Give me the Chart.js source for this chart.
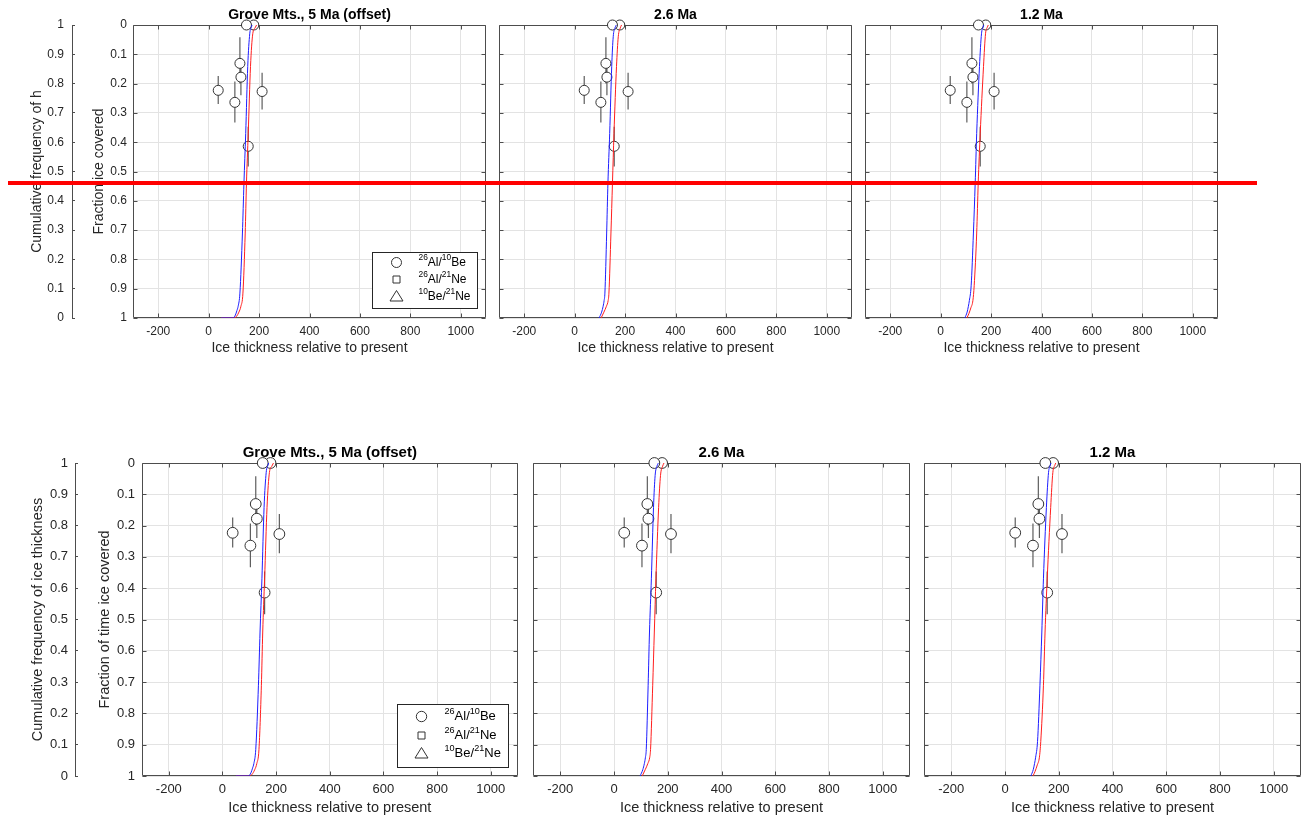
<!DOCTYPE html>
<html>
<head>
<meta charset="utf-8">
<script src="https://cdn.jsdelivr.net/npm/chart.js@4.4.1/dist/chart.umd.min.js"></script>
<style>
body { margin: 0; background: #fff; width: 1307px; height: 823px; overflow: hidden; position: relative; }
#redline { position: absolute; left: 8px; top: 181px; width: 1249px; height: 4px; background: #ff0000; z-index: 10; }
</style>
</head>
<body>
<div id="redline"></div>
<script>
const FONT = '"Liberation Sans", Arial, Helvetica, sans-serif';
const TXT = '#262626';
const AXIS = '#4d4d4d';
const GRID = '#e3e3e3';

// ---- data ----
const xTicks = [-200, 0, 200, 400, 600, 800, 1000];
const yTicks = [0, 0.1, 0.2, 0.3, 0.4, 0.5, 0.6, 0.7, 0.8, 0.9, 1];

const panelTitles = ['Grove Mts., 5 Ma (offset)', '2.6 Ma', '1.2 Ma'];

// 26Al/10Be samples: ice thickness, fraction of time covered, error bar ends
const sampleThick = [179, 150, 124, 128, 38, 104, 212, 157];
const sampleFrac  = [0, 0, 0.131, 0.178, 0.223, 0.264, 0.227, 0.414];
const sampleLo    = [0, 0, 0.042, 0.13, 0.174, 0.193, 0.163, 0.347];
const sampleHi    = [0, 0, 0.20, 0.24, 0.27, 0.333, 0.288, 0.483];

// cumulative ice thickness curves (blue / red) for each panel
const blue5Thick  = [50, 97, 106, 112, 117, 124, 134, 140, 147, 155, 163, 170, 172];
const blue5Frac   = [1, 1, 0.99, 0.975, 0.96, 0.915, 0.71, 0.54, 0.37, 0.142, 0.03, 0.006, 0];
const red5Thick   = [50, 100, 110, 120, 128, 136, 145, 150, 157, 166, 175, 184, 190];
const red5Frac    = [1, 1, 0.995, 0.98, 0.96, 0.915, 0.71, 0.54, 0.37, 0.142, 0.03, 0.01, 0];
const blue26Thick = [97, 107, 113, 117, 120, 127, 132, 139, 147, 153, 160, 165];
const blue26Frac  = [1, 0.98, 0.96, 0.94, 0.915, 0.71, 0.54, 0.37, 0.142, 0.04, 0.01, 0];
const red26Thick  = [105, 116, 126, 133, 136, 144, 150, 156, 166, 173, 181, 186];
const red26Frac   = [1, 0.98, 0.96, 0.94, 0.915, 0.71, 0.54, 0.37, 0.142, 0.04, 0.01, 0];
const blue12Thick = [96, 105, 110, 114, 121, 130, 137, 143, 154, 162, 168, 171];
const blue12Frac  = [1, 0.98, 0.96, 0.94, 0.89, 0.71, 0.54, 0.37, 0.142, 0.03, 0.008, 0];
const red12Thick  = [104, 112, 120, 128, 133, 143, 149, 157, 170, 178, 185, 189];
const red12Frac   = [1, 0.985, 0.965, 0.94, 0.89, 0.71, 0.54, 0.37, 0.142, 0.03, 0.008, 0];

const blueThick = [blue5Thick, blue26Thick, blue12Thick];
const blueFrac  = [blue5Frac, blue26Frac, blue12Frac];
const redThick  = [red5Thick, red26Thick, red12Thick];
const redFrac   = [red5Frac, red26Frac, red12Frac];

const legendLabels = ['^{26}Al/^{10}Be', '^{26}Al/^{21}Ne', '^{10}Be/^{21}Ne'];
const legendStyles = ['circle', 'rect', 'triangle'];

// ---- layout ----
const rows = [
  { top: 0, height: 360, areaTop: 25, areaBottom: 318, tick: 12, axTitle: 14, title: 14, titleGap: 9.5,
    xTitlePad: 3.6, innerLeft: 85, yTitle: 'Fraction ice covered', yTitlePad: 5.6, yLabelPad: 6, dot: 5,
    outer: { left: 20, axisLeft: 72, titlePad: 8.6, labelPad: 8, text: 'Cumulative frequency of h' },
    panels: [{ left: 133, right: 487 }, { left: 499, right: 853 }, { left: 865, right: 1219 }],
    legend: { w: 105, h: 56, right: 9, bottom: 10, markerX: 24, labelX: 46, rows: [10, 27, 44], font: 12, r: 5 } },
  { top: 430, height: 393, areaTop: 463, areaBottom: 776, tick: 13, axTitle: 14.5, title: 15, titleGap: 10.3,
    xTitlePad: 6.3, innerLeft: 88, yTitle: 'Fraction of time ice covered', yTitlePad: 8, yLabelPad: 7, dot: 5.4,
    outer: { left: 20, axisLeft: 75, titlePad: 9, labelPad: 7, text: 'Cumulative frequency of ice thickness' },
    panels: [{ left: 142, right: 519 }, { left: 533, right: 911 }, { left: 924, right: 1302 }],
    legend: { w: 111, h: 63, right: 10, bottom: 9, markerX: 24, labelX: 47, rows: [12, 31, 49], font: 13, r: 5.2 } }
];

function addCanvas(left, top, width, height) {
  const c = document.createElement('canvas');
  c.width = width; c.height = height;
  c.style.cssText = 'position:absolute;left:' + left + 'px;top:' + top + 'px;width:' + width + 'px;height:' + height + 'px';
  document.body.appendChild(c);
  return c;
}

function pts(xs, ys) { return xs.map((x, i) => ({ x: x, y: ys[i] })); }

function drawRich(ctx, str, x, y, size) {
  str.split(/(\^\{[^}]*\})/).filter(Boolean).forEach(p => {
    const sup = p.startsWith('^{');
    const t = sup ? p.slice(2, -1) : p;
    ctx.font = (sup ? size * 0.7 : size) + 'px ' + FONT;
    ctx.fillText(t, x, sup ? y - size * 0.38 : y);
    x += ctx.measureText(t).width;
  });
}

function drawMarker(ctx, style, x, y, r) {
  ctx.beginPath();
  if (style === 'circle') ctx.arc(x, y, r, 0, Math.PI * 2);
  else if (style === 'rect') ctx.rect(x - 3.5, y - 3.5, 7, 7);
  else { ctx.moveTo(x, y - 6); ctx.lineTo(x + 6.5, y + 4.5); ctx.lineTo(x - 6.5, y + 4.5); ctx.closePath(); }
  ctx.stroke();
}

function matlabPlugin(meta) {
  return {
    id: 'matlab',
    beforeDatasetsDraw(chart) {
      const { ctx, chartArea: a } = chart;
      const sx = chart.scales.x, sy = chart.scales.y;
      const L = Math.round(a.left) + 0.5, R = Math.round(a.right) - 0.5;
      const T = Math.round(a.top) + 0.5, B = Math.round(a.bottom) - 0.5;
      ctx.save();
      ctx.strokeStyle = AXIS; ctx.lineWidth = 1;
      ctx.beginPath();
      sx.ticks.forEach(t => {
        const px = Math.round(sx.getPixelForValue(t.value)) + 0.5;
        ctx.moveTo(px, T); ctx.lineTo(px, T + 4);
        ctx.moveTo(px, B); ctx.lineTo(px, B - 4);
      });
      sy.ticks.forEach(t => {
        const py = Math.round(sy.getPixelForValue(t.value)) + 0.5;
        ctx.moveTo(L, py); ctx.lineTo(L + 4, py);
        ctx.moveTo(R, py); ctx.lineTo(R - 4, py);
      });
      ctx.rect(L, T, R - L, B - T);
      ctx.stroke();
      ctx.restore();
    },
    afterDraw(chart) {
      const { ctx, chartArea: a } = chart;
      ctx.save();
      ctx.fillStyle = '#000';
      ctx.textAlign = 'center'; ctx.textBaseline = 'middle';
      ctx.font = 'bold ' + meta.titleSize + 'px ' + FONT;
      ctx.fillText(meta.title, (a.left + a.right) / 2, a.top - meta.titleGap);
      const lg = meta.legend;
      if (lg) {
        const bx = Math.round(a.right - lg.right - lg.w) + 0.5;
        const by = Math.round(a.bottom - lg.bottom - lg.h) + 0.5;
        ctx.fillStyle = '#fff'; ctx.fillRect(bx, by, lg.w, lg.h);
        ctx.strokeStyle = TXT; ctx.lineWidth = 1; ctx.strokeRect(bx, by, lg.w, lg.h);
        let k = 0;
        chart.data.datasets.forEach(ds => {
          if (!ds.legendText) return;
          const my = by + lg.rows[k];
          ctx.strokeStyle = '#333';
          drawMarker(ctx, ds.pointStyle, bx + lg.markerX, my, lg.r);
          ctx.fillStyle = '#000'; ctx.textAlign = 'left'; ctx.textBaseline = 'middle';
          drawRich(ctx, ds.legendText, bx + lg.labelX, my, lg.font);
          k++;
        });
      }
      ctx.restore();
    }
  };
}

function makeOuter(row) {
  const o = row.outer;
  const yW = o.axisLeft - o.left;
  const canvas = addCanvas(o.left, row.top, yW + 5, row.height);
  new Chart(canvas, {
    type: 'scatter',
    data: { datasets: [] },
    options: {
      responsive: false, animation: false,
      layout: { padding: { top: row.areaTop - row.top, bottom: row.top + row.height - row.areaBottom, left: 0, right: 2 } },
      plugins: { legend: { display: false }, tooltip: { enabled: false } },
      scales: {
        x: { type: 'linear', display: false, min: 0, max: 1 },
        y: {
          type: 'linear', min: 0, max: 1,
          afterBuildTicks: s => { s.ticks = yTicks.map(v => ({ value: v })); },
          afterFit: s => { s.width = yW; },
          grid: { color: AXIS, drawTicks: false },
          border: { display: true, color: AXIS, width: 1 },
          ticks: { padding: o.labelPad, color: TXT, font: { family: FONT, size: row.tick }, callback: v => String(v) },
          title: { display: true, text: o.text, color: TXT, font: { family: FONT, size: row.axTitle }, padding: { top: o.titlePad, bottom: 0 } }
        }
      }
    }
  });
}

function makePanel(row, p, idx) {
  const first = idx === 0;
  const yW = first ? p.left - row.innerLeft : 6;
  const cLeft = p.left - yW;
  const padR = 5;
  const canvas = addCanvas(cLeft, row.top, p.right - cLeft + padR, row.height);

  const bars = [];
  sampleThick.forEach((x, i) => {
    bars.push({ x: x, y: sampleLo[i] }, { x: x, y: sampleHi[i] }, { x: x, y: null });
  });

  const datasets = [
    { data: pts(blueThick[idx], blueFrac[idx]), showLine: true, pointRadius: 0, borderColor: 'rgb(30,30,255)',
      borderWidth: 1, cubicInterpolationMode: 'monotone', order: 0 },
    { data: pts(redThick[idx], redFrac[idx]), showLine: true, pointRadius: 0, borderColor: 'rgb(255,30,30)',
      borderWidth: 1, cubicInterpolationMode: 'monotone', order: 0 },
    { data: pts(sampleThick, sampleFrac), pointStyle: legendStyles[0], legendText: legendLabels[0],
      pointRadius: row.dot, borderWidth: 1, borderColor: '#333', backgroundColor: '#fff', clip: false, order: 1 },
    { data: bars, showLine: true, spanGaps: false, pointRadius: 0, borderColor: '#5e5e5e', borderWidth: 1.2, clip: false, order: 2 },
    { data: [], pointStyle: legendStyles[1], legendText: legendLabels[1], order: 3 },
    { data: [], pointStyle: legendStyles[2], legendText: legendLabels[2], order: 3 }
  ];

  new Chart(canvas, {
    type: 'scatter',
    data: { datasets: datasets },
    plugins: [matlabPlugin({ title: panelTitles[idx], titleSize: row.title, titleGap: row.titleGap, legend: first ? row.legend : null })],
    options: {
      responsive: false, animation: false,
      layout: { padding: { top: row.areaTop - row.top, right: padR, bottom: 0, left: 0 } },
      plugins: { legend: { display: false }, tooltip: { enabled: false } },
      scales: {
        x: {
          type: 'linear', min: -300, max: 1100,
          afterBuildTicks: s => { s.ticks = xTicks.map(v => ({ value: v })); },
          afterFit: s => { s.height = row.top + row.height - row.areaBottom; },
          grid: { color: GRID, drawTicks: false },
          border: { display: false },
          ticks: { padding: 6, autoSkip: false, maxRotation: 0, color: TXT, font: { family: FONT, size: row.tick }, callback: v => String(v) },
          title: { display: true, text: 'Ice thickness relative to present', color: TXT,
                   font: { family: FONT, size: row.axTitle }, padding: { top: 0, bottom: row.xTitlePad } }
        },
        y: {
          type: 'linear', min: 0, max: 1, reverse: true,
          afterBuildTicks: s => { s.ticks = yTicks.map(v => ({ value: v })); },
          afterFit: s => { s.width = yW; },
          grid: { color: GRID, drawTicks: false },
          border: { display: false },
          ticks: { display: first, padding: row.yLabelPad, color: TXT, font: { family: FONT, size: row.tick }, callback: v => String(v) },
          title: { display: first, text: row.yTitle, color: TXT, font: { family: FONT, size: row.axTitle },
                   padding: { top: row.yTitlePad, bottom: 0 } }
        }
      }
    }
  });
}

rows.forEach(row => {
  makeOuter(row);
  row.panels.forEach((p, i) => makePanel(row, p, i));
});
</script>
</body>
</html>
